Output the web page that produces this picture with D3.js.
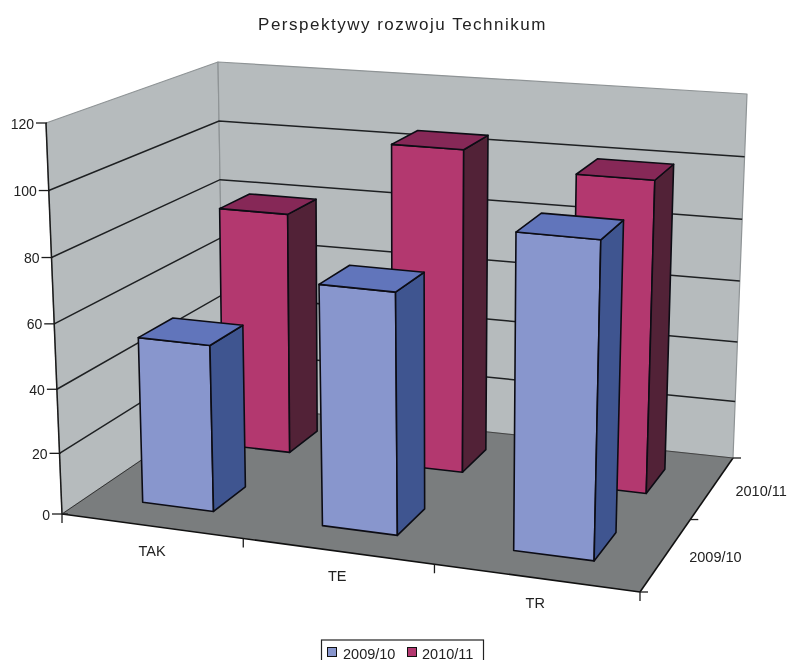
<!DOCTYPE html>
<html><head><meta charset="utf-8">
<script src="https://cdn.jsdelivr.net/npm/d3@7/dist/d3.min.js"></script>
<style>html,body{margin:0;padding:0;background:#fff}svg{display:block;filter:blur(.35px)}text{font-family:"Liberation Sans",Arial,sans-serif;fill:#222}</style>
</head><body><svg id="c" width="788" height="660"></svg>
<script>
const categories = ["TAK","TE","TR"];
const seriesNames = ["2009/10","2010/11"];
const values2009 = [53,75,96];
const values2010 = [80,105,100];
const valueTicks = [0,20,40,60,80,100,120];
const titleText = "Perspektywy rozwoju Technikum";

const W = {
  f0:[[62,514],[640,592],[733,458],[224,404]],
  f1:[[46,123],[653,176],[747,94],[218,62]]
};
function homography(q){
  const [[x0,y0],[x1,y1],[x2,y2],[x3,y3]] = q;
  const dx1=x1-x2,dx2=x3-x2,sx=x0-x1+x2-x3,dy1=y1-y2,dy2=y3-y2,sy=y0-y1+y2-y3;
  const z=dx1*dy2-dx2*dy1, g=(sx*dy2-dx2*sy)/z, h=(dx1*sy-sx*dy1)/z;
  const a=x1-x0+g*x1,b=x3-x0+h*x3,c=x0,d=y1-y0+g*y1,e=y3-y0+h*y3,f=y0;
  return (u,v)=>{const w=g*u+h*v+1;return [(a*u+b*v+c)/w,(d*u+e*v+f)/w];};
}
const H0=homography(W.f0), H1=homography(W.f1);
const warp0=d3.scalePow().exponent(.98).domain([0,1]).range([0,1]);
const warp1=d3.scalePow().exponent(.942).domain([0,1]).range([0,1]);
const hScale=d3.scalePow().exponent(1.04).domain([0,120]).range([0,1]);
const P=(u,v,val)=>{const a=H0(warp0(u),v),b=H1(warp1(u),v),t=hScale(val);return [a[0]+(b[0]-a[0])*t,a[1]+(b[1]-a[1])*t];};
const uScale=d3.scaleBand().domain(categories).range([0,1]).paddingInner(.6).paddingOuter(.3);
const vScale=d3.scaleBand().domain(seriesNames).range([0,1]).paddingInner(.6).paddingOuter(.3);
const uTick=d3.scaleLinear().domain([0,categories.length]).range([0,1]);
const vTick=d3.scaleLinear().domain([0,seriesNames.length]).range([0,1]);

const svg=d3.select("#c");
const line=d3.line();
const poly=(pts,fill,stroke,sw)=>svg.append("path").attr("d",line(pts)+"Z").attr("fill",fill).attr("stroke",stroke||"none").attr("stroke-width",sw||0).attr("stroke-linejoin","round");
const seg=(a,b,stroke,sw)=>svg.append("path").attr("d",line([a,b])).attr("fill","none").attr("stroke",stroke).attr("stroke-width",sw);

// walls
poly([P(0,0,0),P(0,1,0),P(0,1,120),P(0,0,120)],"#b6bbbd","#8f9496",1.2);
poly([P(0,1,0),P(1,1,0),P(1,1,120),P(0,1,120)],"#b6bbbd","#8f9496",1.2);
// gridlines
valueTicks.filter(v=>v>0&&v<120).forEach(v=>{
  svg.append("path").attr("d",line([P(0,0,v),P(0,1,v),P(1,1,v)])).attr("fill","none").attr("stroke","#1e2022").attr("stroke-width",1.5);
});
// floor
poly([P(0,0,0),P(1,0,0),P(1,1,0),P(0,1,0)],"#7a7d7e");
// axes
seg(P(0,0,0),P(0,0,120),"#1c1c1c",1.5);
seg(P(0,0,0),P(1,0,0),"#111",1.6);
seg(P(1,0,0),P(1,1,0),"#111",1.6);
seg(P(0,0,0),P(0,1,0),"#333",1);
seg(P(0,1,0),P(1,1,0),"#444",1);
valueTicks.forEach(v=>{
  const p=P(0,0,v);
  seg([p[0]-10,p[1]],[p[0]+(v===0?6:1),p[1]],"#1c1c1c",1.3);
  svg.append("text").attr("x",p[0]-12).attr("y",p[1]+5.5).attr("text-anchor","end").attr("font-size",14).text(v);
});
d3.range(categories.length+1).forEach(i=>{const p=P(uTick(i),0,0);seg(p,[p[0],p[1]+9],"#1c1c1c",1.3);});
d3.range(seriesNames.length+1).forEach(i=>{const p=P(1,vTick(i),0);seg(p,[p[0]+8,p[1]],"#1c1c1c",1.3);});

// bars
const barColors=[
  {front:"#8896cd",side:"#3f5590",top:"#6175bb"},
  {front:"#b3386f",side:"#522237",top:"#862857"}
];
const seriesValues=[values2009,values2010];
function bar(cat,s,val){
  const u0=uScale(cat),u1=u0+uScale.bandwidth(),v0=vScale(seriesNames[s]),v1=v0+vScale.bandwidth(),c=barColors[s];
  const E="#0c0c14";
  poly([P(u0,v0,0),P(u1,v0,0),P(u1,v0,val),P(u0,v0,val)],c.front,E,1.6);
  poly([P(u1,v0,0),P(u1,v1,0),P(u1,v1,val),P(u1,v0,val)],c.side,E,1.6);
  poly([P(u0,v0,val),P(u1,v0,val),P(u1,v1,val),P(u0,v1,val)],c.top,E,1.6);
}
[1,0].forEach(s=>categories.forEach((cat,i)=>bar(cat,s,seriesValues[s][i])));

// labels
categories.forEach(c=>{
  const p=P(uScale(c)+uScale.bandwidth()/2,0,0);
  svg.append("text").attr("x",p[0]).attr("y",p[1]+30).attr("text-anchor","middle").attr("font-size",14.5).text(c);
});
seriesNames.forEach(n=>{
  const p=P(1,vScale(n)+vScale.bandwidth()/2,0);
  svg.append("text").attr("x",p[0]+23).attr("y",p[1]+8).attr("font-size",14.5).text(n);
});
svg.append("text").attr("x",402.5).attr("y",30).attr("text-anchor","middle").attr("font-size",17).attr("letter-spacing",1.5).text(titleText);

// legend
svg.append("rect").attr("x",321.5).attr("y",640).attr("width",162).attr("height",25).attr("fill","#fff").attr("stroke","#222").attr("stroke-width",1.2);
seriesNames.forEach((n,i)=>{
  const x=[327,407][i];
  svg.append("rect").attr("x",x+.5).attr("y",647.5).attr("width",9).attr("height",9).attr("fill",barColors[i].front).attr("stroke","#111");
  svg.append("text").attr("x",x+[16,15][i]).attr("y",658.5).attr("font-size",14.5).text(n);
});
</script></body></html>
